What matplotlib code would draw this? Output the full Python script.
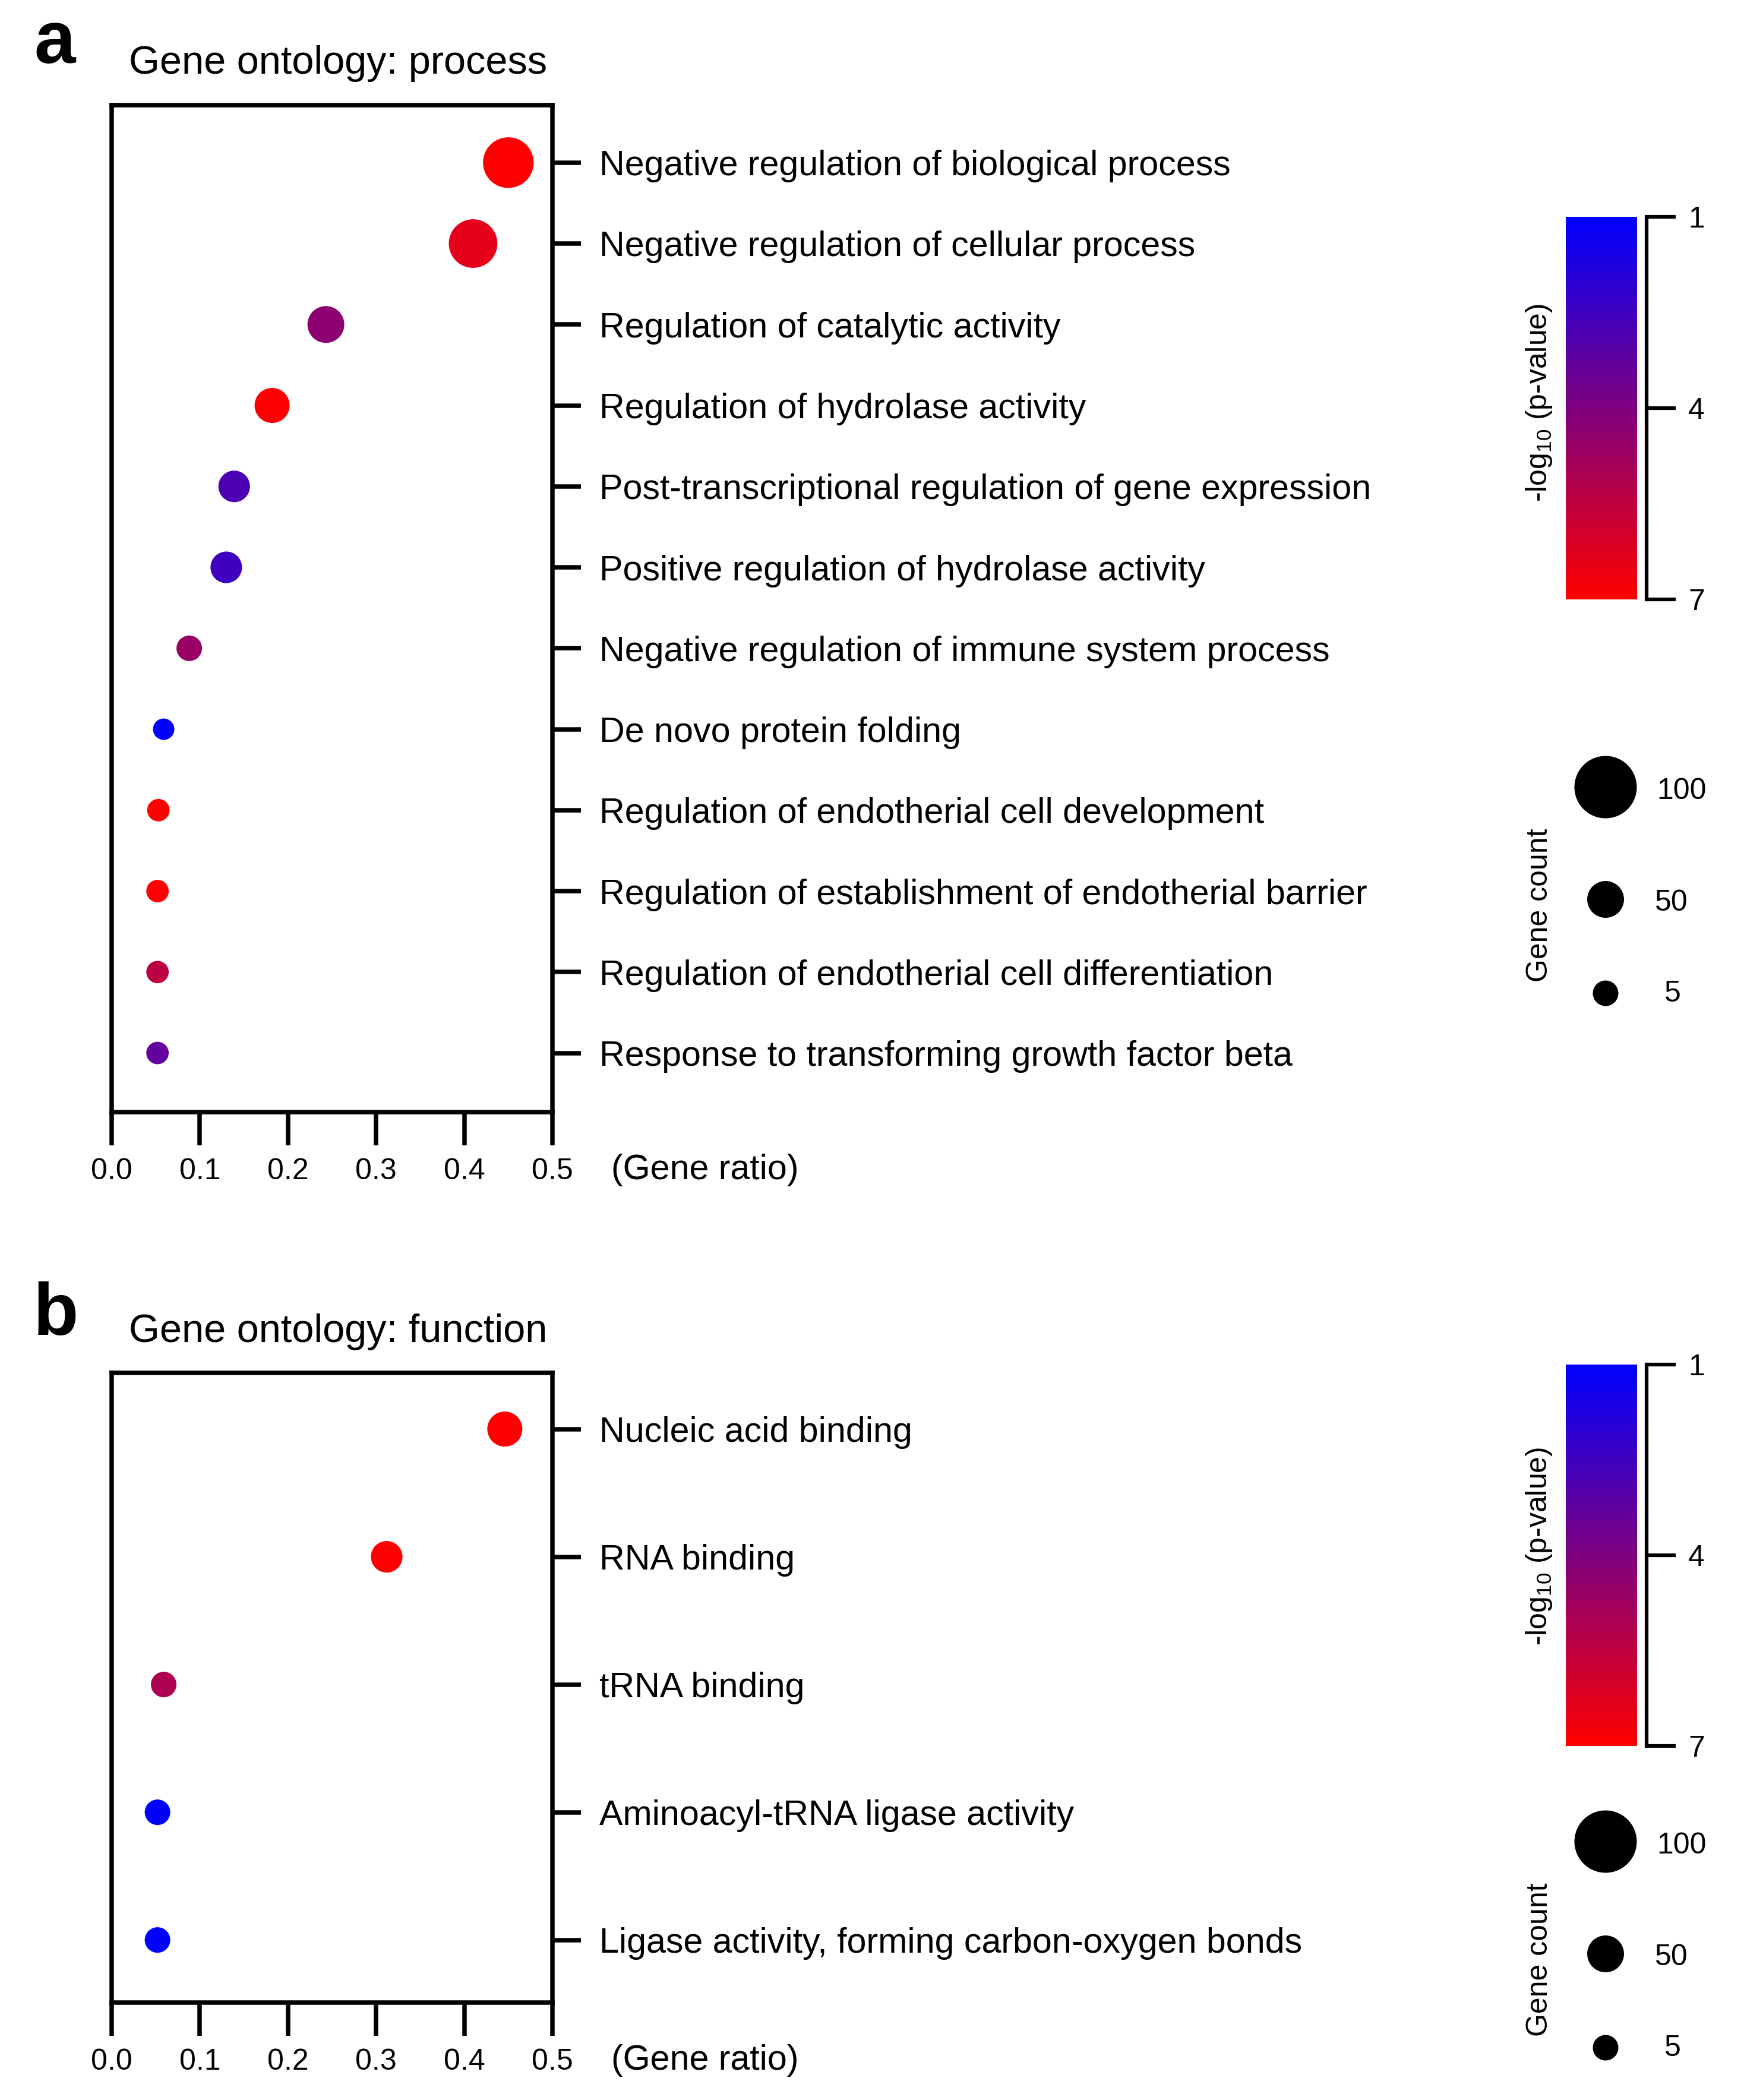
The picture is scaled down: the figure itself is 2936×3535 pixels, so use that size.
import numpy as np
import matplotlib
matplotlib.use('Agg')
import matplotlib.pyplot as plt
from matplotlib.colors import LinearSegmentedColormap, Normalize

plt.rcParams['font.family'] = ['Liberation Sans', 'DejaVu Sans']
plt.rcParams['mathtext.fontset'] = 'custom'
plt.rcParams['mathtext.rm'] = 'Liberation Sans'
plt.rcParams['mathtext.it'] = 'Liberation Sans:italic'
plt.rcParams['mathtext.bf'] = 'Liberation Sans:bold'

# ---- data ----
process_terms = ['Negative regulation of biological process',
                 'Negative regulation of cellular process',
                 'Regulation of catalytic activity',
                 'Regulation of hydrolase activity',
                 'Post-transcriptional regulation of gene expression',
                 'Positive regulation of hydrolase activity',
                 'Negative regulation of immune system process',
                 'De novo protein folding',
                 'Regulation of endotherial cell development',
                 'Regulation of establishment of endotherial barrier',
                 'Regulation of endotherial cell differentiation',
                 'Response to transforming growth factor beta']
process_ratio = [0.450, 0.410, 0.243, 0.182, 0.139, 0.130, 0.088, 0.059, 0.053, 0.052, 0.052, 0.052]
process_count = [77, 73, 50, 43, 29, 29, 5, 1, 2, 2, 2, 2]
process_logp = [7.0, 6.4, 4.35, 7.0, 2.8, 2.5, 4.6, 1.0, 7.0, 7.0, 5.4, 3.35]

function_terms = ['Nucleic acid binding',
                  'RNA binding',
                  'tRNA binding',
                  'Aminoacyl-tRNA ligase activity',
                  'Ligase activity, forming carbon-oxygen bonds']
function_ratio = [0.446, 0.312, 0.059, 0.052, 0.052]
function_count = [43, 29, 5, 5, 5]
function_logp = [7.0, 7.0, 5.1, 1.0, 1.0]

x_ticks = [0.0, 0.1, 0.2, 0.3, 0.4, 0.5]
cbar_ticks = [1, 4, 7]
legend_counts = [100, 50, 5]

# gene count -> marker diameter (px at 300 dpi), taken from the size legend
size_knots_count = [1, 5, 50, 100]
size_knots_diam = [36, 43, 62, 105]

W, H, DPI = 2937, 3535, 300
cmap = LinearSegmentedColormap.from_list('blue_red', ['#0000FF', '#FF0000'])
norm = Normalize(vmin=1, vmax=7)


def marker_area(counts):
    d_px = np.interp(counts, size_knots_count, size_knots_diam)
    return (d_px * 72 / DPI) ** 2


def px_rect(left, top, right, bottom):
    return [left / W, 1 - bottom / H, (right - left) / W, (bottom - top) / H]


fig = plt.figure(figsize=(W / DPI, H / DPI), dpi=DPI)


def dot_panel(rect, terms, ratio, count, logp, pad_top, pad_bot):
    ax = fig.add_axes(rect)
    ypos = np.arange(len(terms))
    ax.scatter(ratio, ypos, s=marker_area(count), c=logp, cmap=cmap, norm=norm,
               linewidths=0, zorder=3, clip_on=False)
    ax.set_xlim(0, 0.5)
    ax.set_ylim(len(terms) - 1 + pad_bot, -pad_top)
    ax.set_xticks(x_ticks)
    ax.set_xticklabels([f'{t:.1f}' for t in x_ticks], fontsize=12)
    ax.yaxis.tick_right()
    ax.set_yticks(ypos)
    ax.set_yticklabels(terms, fontsize=14.2)
    ax.tick_params(axis='x', length=13.4, width=1.8, pad=5)
    ax.tick_params(axis='y', length=11.5, width=1.8, pad=7.5)
    for sp in ax.spines.values():
        sp.set_linewidth(1.8)
    ax.annotate('(Gene ratio)', xy=(1, 0), xycoords='axes fraction',
                xytext=(23.8, -27.1), textcoords='offset points',
                ha='left', va='baseline', fontsize=14.2)
    return ax


def pvalue_bar(rect, label_y):
    cax = fig.add_axes(rect)
    grad = np.linspace(1, 7, 256).reshape(-1, 1)
    cax.imshow(grad, aspect='auto', cmap=cmap, norm=norm, extent=[0, 1, 7, 1],
               interpolation='bilinear')
    cax.set_ylim(7, 1)
    for side in ['top', 'bottom', 'left']:
        cax.spines[side].set_visible(False)
    cax.spines['right'].set_position(('outward', 3.84))
    cax.spines['right'].set_linewidth(1.5)
    cax.set_xticks([])
    cax.yaxis.tick_right()
    cax.set_yticks(cbar_ticks)
    cax.set_yticklabels([str(t) for t in cbar_ticks], fontsize=12)
    cax.tick_params(axis='y', length=11.8, width=1.5, pad=5)
    fig.text(2591 / W, 1 - label_y / H, '-log$_{10}$ (p-value)', rotation=90,
             ha='center', va='center', fontsize=12)


def count_legend(top):
    lax = fig.add_axes(px_rect(2550, top, 2937, top + 480))
    lax.set_xlim(0, 387)
    lax.set_ylim(480, 0)
    lax.axis('off')
    ys = [75, 264, 422]
    lax.scatter([153] * 3, ys, s=marker_area(legend_counts), c='black',
                linewidths=0, clip_on=False)
    for y, x, n in zip([82, 270, 423], [239, 236, 252], legend_counts):
        lax.text(x, y, str(n), ha='left', va='center', fontsize=12)
    lax.text(42, 274, 'Gene count', rotation=90, ha='center', va='center', fontsize=12)


# ---- panel a ----
dot_panel(px_rect(188, 177, 930, 1872), process_terms, process_ratio,
          process_count, process_logp, 0.71, 0.73)
pvalue_bar(px_rect(2636, 365, 2756, 1009), 678)
count_legend(1250)
fig.text(57 / W, 1 - 106 / H, 'a', fontsize=30, fontweight='bold', ha='left', va='baseline')
fig.text(217 / W, 1 - 124 / H, 'Gene ontology: process', fontsize=16, ha='left', va='baseline')

# ---- panel b ----
dot_panel(px_rect(188, 2311, 930, 3371), function_terms, function_ratio,
          function_count, function_logp, 0.44, 0.49)
pvalue_bar(px_rect(2636, 2297, 2756, 2939), 2603)
count_legend(3025)
fig.text(56 / W, 1 - 2247 / H, 'b', fontsize=30, fontweight='bold', ha='left', va='baseline')
fig.text(217 / W, 1 - 2259 / H, 'Gene ontology: function', fontsize=16, ha='left', va='baseline')

fig.savefig('out.png', dpi=DPI, facecolor='white')
